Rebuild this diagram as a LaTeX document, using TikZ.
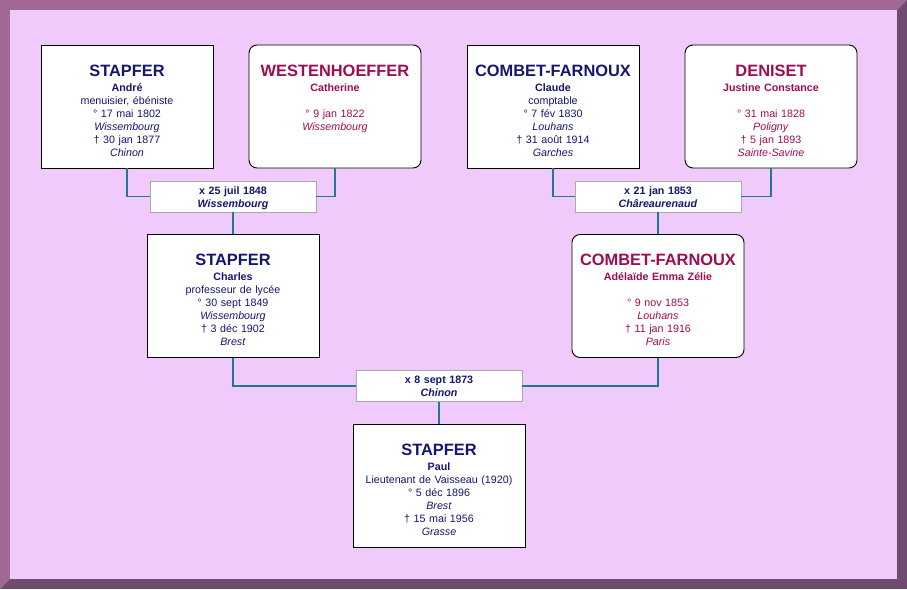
\documentclass[tikz,border=0pt]{standalone}
\usepackage{fontspec}
\setmainfont{Liberation Sans}

\definecolor{male}{RGB}{22,22,112}
\definecolor{female}{RGB}{160,12,80}
\definecolor{link}{RGB}{30,120,150}
\definecolor{wedgray}{RGB}{170,170,170}
\definecolor{bgmauve}{RGB}{240,202,250}
\definecolor{framelight}{RGB}{162,104,148}
\definecolor{framedark}{RGB}{110,76,112}

\newcommand{\famname}[1]{{\fontsize{16.4}{13}\selectfont\bfseries #1}}

\tikzset{
    person/.style={draw=black, line width=0.9pt, fill=white, inner sep=0pt,
        text width=172pt, align=center, text height=31pt, text depth=92pt,
        font=\fontsize{10.7}{13}\selectfont},
    male/.style={person, text=male},
    female/.style={person, text=female, rounded corners=8pt},
    wedding/.style={draw=wedgray, line width=0.8pt, fill=white, inner sep=0pt,
        text width=166pt, align=center, text height=13pt, text depth=18pt,
        font=\fontsize{10.7}{13}\selectfont\bfseries, text=male},
    link/.style={draw=link, line width=1.8pt},
}

\begin{document}
\begin{tikzpicture}[x=1pt, y=-1pt]
    \useasboundingbox (0,0) rectangle (907,589);
    % frame
    \fill[framedark] (0,0) rectangle (907,589);
    \fill[framelight] (0,0) -- (907,0) -- (897,10) -- (10,10) -- (10,579) -- (0,589) -- cycle;
    \fill[bgmauve] (10,10) rectangle (897,579);

    % grandparents
    \node[male] (andre) at (127,106.5) {\famname{STAPFER}\\[2pt] \textbf{André}\\ menuisier, ébéniste\\ ° 17 mai 1802\\ \textit{Wissembourg}\\ † 30 jan 1877\\ \textit{Chinon}};
    \node[female] (catherine) at (335,106.5) {\famname{WESTENHOEFFER}\\[2pt] \textbf{Catherine}\\ \mbox{}\\ ° 9 jan 1822\\ \textit{Wissembourg}};
    \node[male] (claude) at (553,106.5) {\famname{COMBET-FARNOUX}\\[2pt] \textbf{Claude}\\ comptable\\ ° 7 fév 1830\\ \textit{Louhans}\\ † 31 août 1914\\ \textit{Garches}};
    \node[female] (justine) at (771,106.5) {\famname{DENISET}\\[2pt] \textbf{Justine Constance}\\ \mbox{}\\ ° 31 mai 1828\\ \textit{Poligny}\\ † 5 jan 1893\\ \textit{Sainte-Savine}};

    \node[wedding] (mar1) at (233,196.5) {x 25 juil 1848\\ \textit{Wissembourg}};
    \node[wedding] (mar2) at (658,196.5) {x 21 jan 1853\\ \textit{Châreaurenaud}};

    % parents
    \node[male] (charles) at (233,296) {\famname{STAPFER}\\[2pt] \textbf{Charles}\\ professeur de lycée\\ ° 30 sept 1849\\ \textit{Wissembourg}\\ † 3 déc 1902\\ \textit{Brest}};
    \node[female] (adelaide) at (658,296) {\famname{COMBET-FARNOUX}\\[2pt] \textbf{Adélaïde Emma Zélie}\\ \mbox{}\\ ° 9 nov 1853\\ \textit{Louhans}\\ † 11 jan 1916\\ \textit{Paris}};

    \node[wedding] (mar3) at (439,386) {x 8 sept 1873\\ \textit{Chinon}};

    % child
    \node[male] (paul) at (439,486) {\famname{STAPFER}\\[2pt] \textbf{Paul}\\ Lieutenant de Vaisseau (1920)\\ ° 5 déc 1896\\ \textit{Brest}\\ † 15 mai 1956\\ \textit{Grasse}};

    % links
    \draw[link] (andre.south) |- (mar1.west);
    \draw[link] (catherine.south) |- (mar1.east);
    \draw[link] (mar1.south) -- (charles.north);
    \draw[link] (claude.south) |- (mar2.west);
    \draw[link] (justine.south) |- (mar2.east);
    \draw[link] (mar2.south) -- (adelaide.north);
    \draw[link] (charles.south) |- (mar3.west);
    \draw[link] (adelaide.south) |- (mar3.east);
    \draw[link] (mar3.south) -- (paul.north);
\end{tikzpicture}
\end{document}
